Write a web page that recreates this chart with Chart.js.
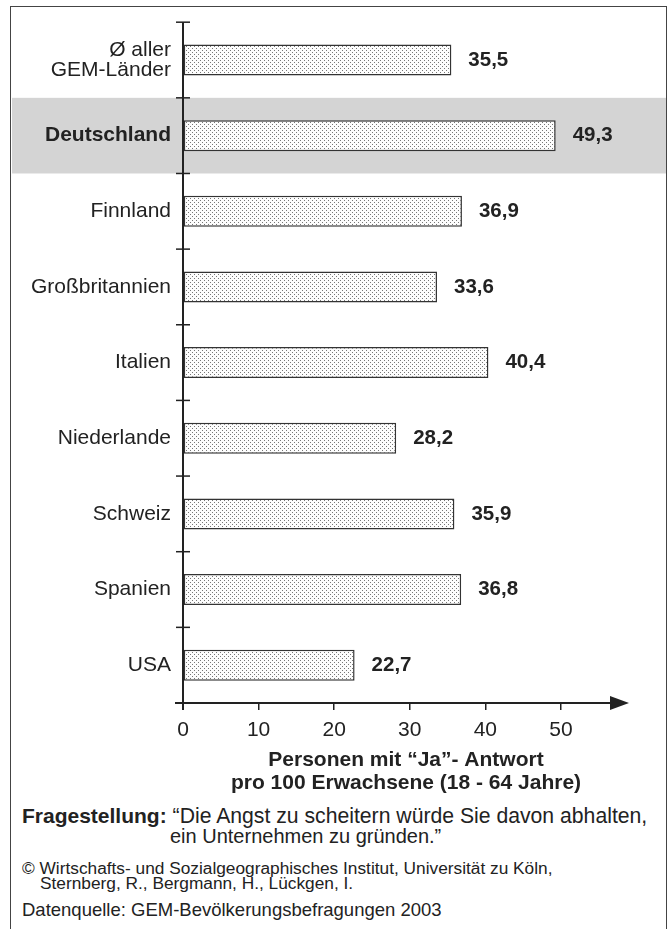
<!DOCTYPE html>
<html>
<head>
<meta charset="utf-8">
<script src="https://cdn.jsdelivr.net/npm/chart.js@4/dist/chart.umd.min.js"></script>
<style>
    body { margin: 0; background: #fff; font-family: "Liberation Sans", Arial, sans-serif; color: #222; }
    #frame { position: absolute; left: 10px; top: 6px; width: 655px; height: 940px; border: 1.5px solid #444; }
    #wrap { position: absolute; left: 0; top: 0; width: 672px; height: 800px; }
    .note { position: absolute; white-space: nowrap; }
</style>
</head>
<body>
<div id="frame"></div>
<div id="wrap"><canvas id="chart"></canvas></div>

<div class="note" style="left:22px; top:804px; font-size:21.2px;"><b style="font-size:21px;">Fragestellung:</b> “Die Angst zu scheitern würde Sie davon abhalten,</div>
<div class="note" style="left:170px; top:825px; font-size:20px;">ein Unternehmen zu gründen.”</div>
<div class="note" style="left:22px; top:858px; font-size:17.3px;">© Wirtschafts- und Sozialgeographisches Institut, Universität zu Köln,</div>
<div class="note" style="left:40px; top:873px; font-size:17.3px;">Sternberg, R., Bergmann, H., Lückgen, I.</div>
<div class="note" style="left:22px; top:899px; font-size:18.5px;">Datenquelle: GEM-Bevölkerungsbefragungen 2003</div>

<script>
const categories = [["Ø aller", "GEM-Länder"], "Deutschland", "Finnland", "Großbritannien", "Italien", "Niederlande", "Schweiz", "Spanien", "USA"];
const values = [35.5, 49.3, 36.9, 33.6, 40.4, 28.2, 35.9, 36.8, 22.7];
const highlightIndex = 1;
const axisTitle = ["Personen mit “Ja”- Antwort", "pro 100 Erwachsene (18 - 64 Jahre)"];

const FONT = "'Liberation Sans', Arial, sans-serif";
const INK = "#222";

// dotted fill like the print raster
function dotPattern() {
    const c = document.createElement("canvas");
    c.width = 4; c.height = 4;
    const g = c.getContext("2d");
    g.fillStyle = "#fdfdfd";
    g.fillRect(0, 0, 4, 4);
    g.fillStyle = "#777";
    g.fillRect(0, 0, 1, 1);
    g.fillRect(2, 2, 1, 1);
    return g.createPattern(c, "repeat");
}

// grey band behind the highlighted row
const bandPlugin = {
    id: "band",
    beforeDraw(chart) {
        const y = chart.scales.y;
        const half = (y.bottom - y.top) / categories.length / 2;
        const yc = y.getPixelForValue(highlightIndex);
        const ctx = chart.ctx;
        ctx.save();
        ctx.fillStyle = "#d4d4d4";
        ctx.fillRect(12, yc - half, 654, half * 2);
        ctx.restore();
    }
};

// axes with arrow, crossing ticks and value labels
const axesPlugin = {
    id: "axes",
    afterDatasetsDraw(chart) {
        const ctx = chart.ctx;
        const x = chart.scales.x, y = chart.scales.y;
        const area = chart.chartArea;
        const x0 = x.getPixelForValue(0);
        const band = (y.bottom - y.top) / categories.length;
        ctx.save();
        ctx.strokeStyle = INK;
        ctx.fillStyle = INK;
        ctx.lineWidth = 2;
        // y axis
        ctx.beginPath();
        ctx.moveTo(x0, area.top);
        ctx.lineTo(x0, area.bottom + 7);
        ctx.stroke();
        // row separators
        ctx.lineWidth = 1.5;
        for (let i = 0; i < categories.length; i++) {
            const yy = y.getPixelForValue(i) - band / 2;
            ctx.beginPath();
            ctx.moveTo(x0 - 7, yy);
            ctx.lineTo(x0 + 7, yy);
            ctx.stroke();
        }
        // x axis with arrow
        ctx.lineWidth = 2;
        ctx.beginPath();
        ctx.moveTo(x0 - 8, area.bottom);
        ctx.lineTo(area.right - 16, area.bottom);
        ctx.stroke();
        ctx.beginPath();
        ctx.moveTo(area.right, area.bottom);
        ctx.lineTo(area.right - 19, area.bottom - 7);
        ctx.lineTo(area.right - 19, area.bottom + 7);
        ctx.closePath();
        ctx.fill();
        // values
        ctx.font = "bold 20.5px " + FONT;
        ctx.textBaseline = "middle";
        ctx.textAlign = "left";
        chart.getDatasetMeta(0).data.forEach((bar, i) => {
            ctx.fillText(values[i].toFixed(1).replace(".", ","), bar.x + 17, bar.y);
        });
        ctx.restore();
    }
};

new Chart(document.getElementById("chart"), {
    type: "bar",
    data: {
        labels: categories,
        datasets: [{
            data: values,
            backgroundColor: dotPattern(),
            borderColor: "#333",
            borderWidth: 1.5,
            borderSkipped: false,
            barPercentage: 0.41,
            categoryPercentage: 1
        }]
    },
    options: {
        indexAxis: "y",
        responsive: true,
        maintainAspectRatio: false,
        animation: false,
        layout: { padding: { top: 22, right: 43, left: 0, bottom: 0 } },
        plugins: { legend: { display: false }, tooltip: { enabled: false } },
        scales: {
            x: {
                min: 0,
                max: 59,
                border: { display: false },
                grid: { drawOnChartArea: false, drawTicks: true, tickLength: 7, color: INK, lineWidth: 1.5 },
                ticks: { stepSize: 10, includeBounds: false, padding: 8, color: INK, font: { family: FONT, size: 21 } },
                title: {
                    display: true,
                    text: axisTitle,
                    color: INK,
                    font: { family: FONT, size: 21, weight: "bold", lineHeight: 1.1 },
                    padding: { top: 0, bottom: 5 }
                },
                afterFit(scale) { scale.height = 97; }
            },
            y: {
                border: { display: false },
                grid: { display: false, drawTicks: false },
                ticks: {
                    padding: 12,
                    color: INK,
                    font: ctx => ({ family: FONT, size: 21, lineHeight: 0.97, weight: ctx.index === highlightIndex ? "bold" : "normal" })
                },
                afterFit(scale) { scale.width = 183; }
            }
        }
    },
    plugins: [bandPlugin, axesPlugin]
});
</script>
</body>
</html>
